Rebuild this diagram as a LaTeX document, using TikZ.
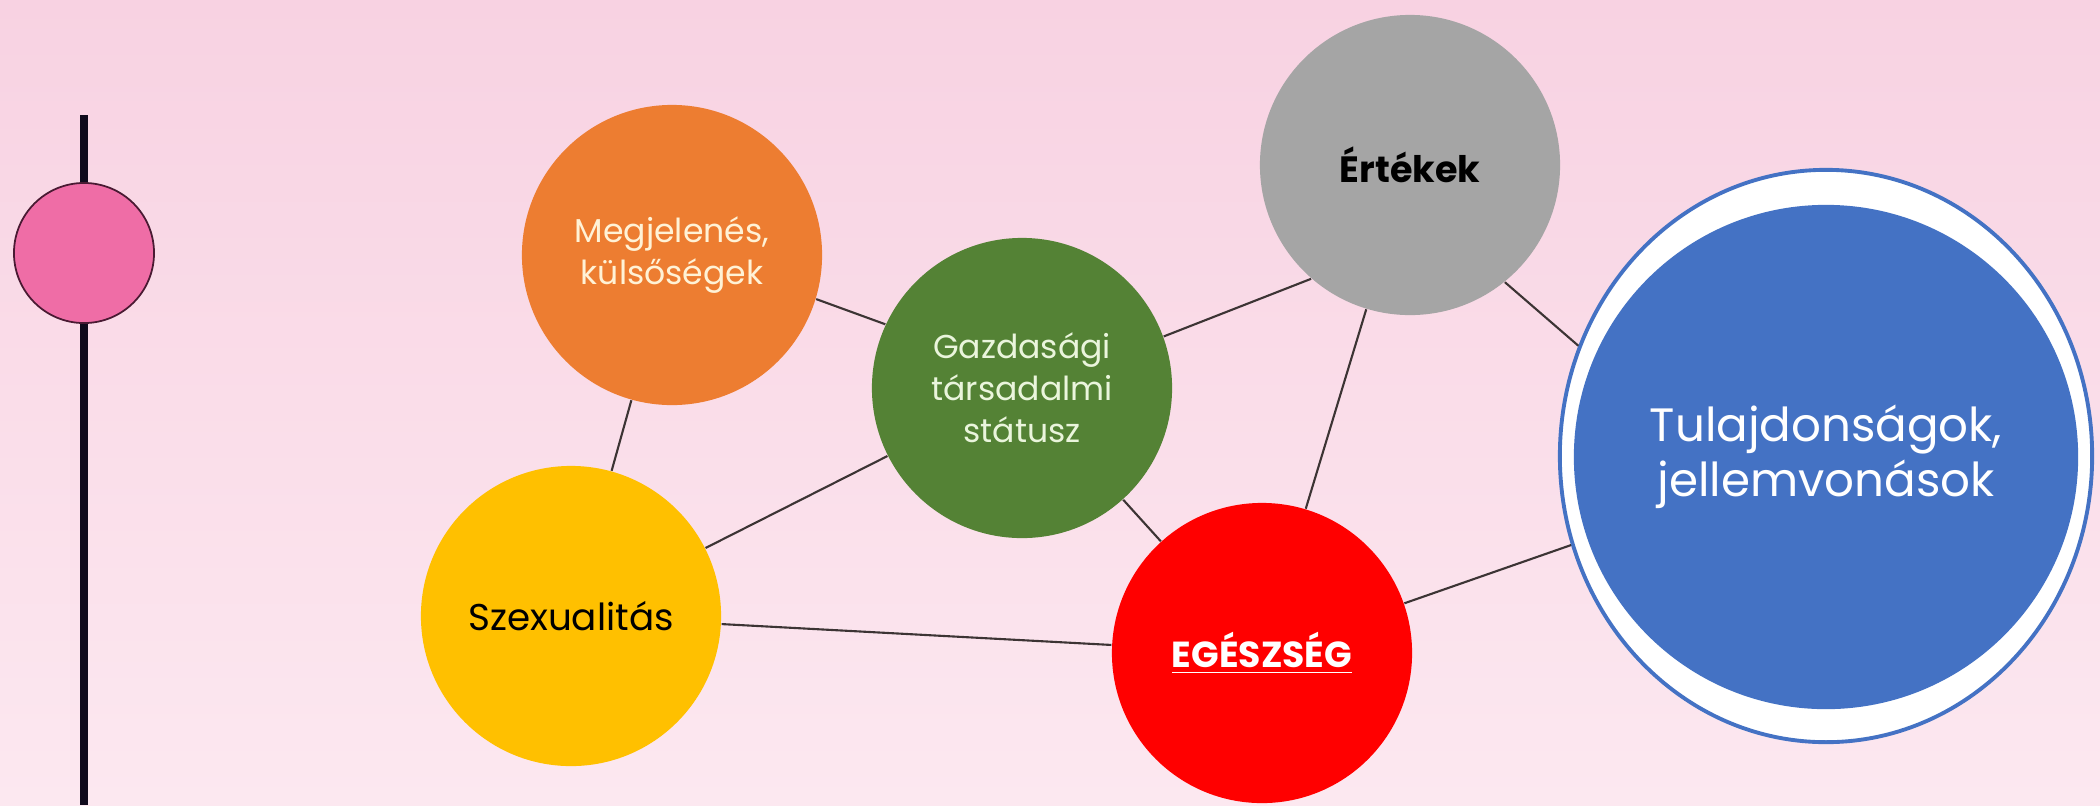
\documentclass[tikz,border=0pt]{standalone}
\usepackage{fontspec}
\setmainfont{Poppins}
\usetikzlibrary{shapes.geometric}
\definecolor{bgtop}{HTML}{F8D2E2}
\definecolor{bgbot}{HTML}{FCE8F0}
\definecolor{cPink}{HTML}{EF6DA6}
\definecolor{cPinkLine}{HTML}{4A1A33}
\definecolor{cBar}{HTML}{100A1C}
\definecolor{cOrange}{HTML}{ED7D31}
\definecolor{cGreen}{HTML}{548235}
\definecolor{cGray}{HTML}{A5A5A5}
\definecolor{cYellow}{HTML}{FFC000}
\definecolor{cRed}{HTML}{FF0000}
\definecolor{cBlue}{HTML}{4472C4}
\definecolor{cCream}{HTML}{FFF2D6}
\definecolor{cPaleGreen}{HTML}{EAF5DC}
\definecolor{cLink}{HTML}{3C3434}
\tikzset{
  bubble/.style={circle, minimum size=3cm, inner sep=0pt, align=center},
  link/.style={draw=cLink, line width=0.6pt},
}
\begin{document}
\begin{tikzpicture}[x=0.01cm,y=-0.01cm]
\useasboundingbox (0,0) rectangle (2100,805);
\shade[top color=bgtop,bottom color=bgbot] (0,0) rectangle (2100,805);

% timeline bar
\coordinate (ltop) at (84,115);
\coordinate (lbot) at (84,805);
\draw[cBar, line width=2.3pt] (ltop) -- (lbot);
\node[circle, minimum size=1.4cm, inner sep=0pt, fill=cPink, draw=cPinkLine, line width=0.5pt] (dot) at (84,253) {};

% bubbles
\node[bubble, fill=cOrange, text=cCream, font=\fontsize{9.4}{11.9}\selectfont] (orange) at (672,255) {Megjelenés,\\külsőségek};
\node[bubble, fill=cGreen, text=cPaleGreen, font=\fontsize{9.4}{11.9}\selectfont] (green) at (1022,388) {Gazdasági\\társadalmi\\státusz};
\node[bubble, fill=cGray, text=black, font=\fontsize{10.4}{12}\selectfont\bfseries] (gray) at (1410,165) {Értékek};
\node[bubble, fill=cYellow, text=black, font=\fontsize{10.6}{12}\selectfont] (yellow) at (571,616) {Szexualitás};
\node[bubble, fill=cRed, text=white, font=\fontsize{10.3}{12}\selectfont\bfseries] (red) at (1262,653) {\underline{EGÉSZSÉG}};
\node[ellipse, minimum width=5.32cm, minimum height=5.72cm, inner sep=0pt, fill=white, draw=cBlue, line width=1.1pt] (blueouter) at (1826,456) {};
\node[circle, minimum size=5.04cm, inner sep=0pt, fill=cBlue, text=white, align=center, font=\fontsize{13.3}{15.6}\selectfont] (blue) at (1826,457) {Tulajdonságok,\\jellemvonások};

% connectors
\draw[link] (orange.-17) -- (green.155);
\draw[link] (orange) -- (yellow);
\draw[link] (green) -- (yellow);
\draw[link] (green.20.6) -- (gray.229.6);
\draw[link] (green) -- (red);
\draw[link] (gray) -- (red);
\draw[link] (gray.-51.8) -- (blueouter.156.5);
\draw[link] (yellow) -- (red);
\draw[link] (red) -- (blueouter);
\end{tikzpicture}
\end{document}
